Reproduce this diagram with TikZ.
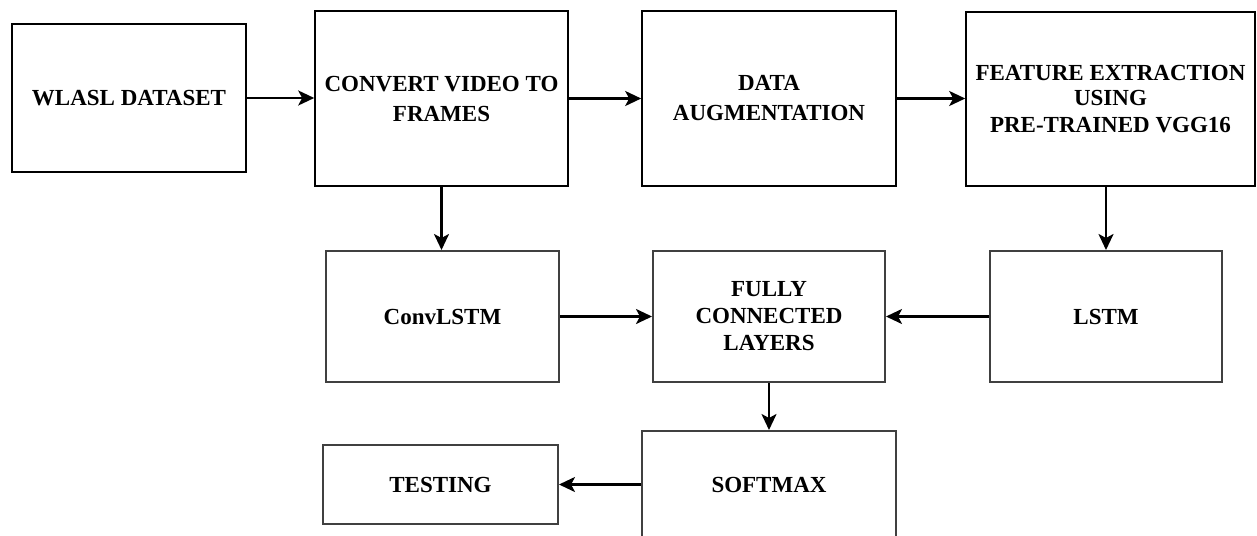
\documentclass[tikz,border=0pt]{standalone}
\usepackage{fontspec}
\setmainfont{Liberation Serif}
\usetikzlibrary{arrows.meta}
\tikzset{
  blk/.style={draw=black, line width=1.6pt, align=center, inner sep=0pt,
    font=\bfseries\fontsize{23}{27}\selectfont, fill=white},
  blk2/.style={blk, draw=black!75, line width=2pt},
  arr/.style={line width=2.4pt, -{Stealth[length=16pt,width=15pt,inset=4pt]}}
}
\begin{document}
\begin{tikzpicture}[x=1pt,y=-1pt]
\useasboundingbox (0,0) rectangle (1257,535);
\clip (0,0) rectangle (1257,535);
\fill[white] (0,0) rectangle (1257,535);
% top row
\node[blk, minimum width=234pt, minimum height=148pt] (wlasl) at (129,98) {WLASL DATASET};
\node[blk, minimum width=253pt, minimum height=175pt] (conv) at (441.5,98.5) {CONVERT VIDEO TO\\[3pt]FRAMES};
\node[blk, minimum width=254pt, minimum height=175pt] (aug) at (769,98.5) {DATA\\[3pt]AUGMENTATION};
\node[blk, minimum width=289pt, minimum height=174pt] (feat) at (1110.5,99) {FEATURE EXTRACTION\\[-2pt]USING\\PRE-TRAINED VGG16};
% middle row
\node[blk2, minimum width=233pt, minimum height=131pt] (convlstm) at (442.5,316.5) {ConvLSTM};
\node[blk2, minimum width=232pt, minimum height=131pt] (fc) at (769,316.5) {FULLY\\CONNECTED\\LAYERS};
\node[blk2, minimum width=232pt, minimum height=131pt] (lstm) at (1106,316.5) {LSTM};
% bottom row
\node[blk2, minimum width=254pt, minimum height=108pt] (softmax) at (769,485) {SOFTMAX};
\node[blk2, minimum width=235pt, minimum height=79pt] (testing) at (440.5,484.5) {TESTING};
% connectors
\draw[arr] (wlasl.east) -- (wlasl.east -| conv.west);
\draw[arr] (conv.east) -- (conv.east -| aug.west);
\draw[arr] (aug.east) -- (aug.east -| feat.west);
\draw[arr] (conv.south) -- (conv.south |- convlstm.north);
\draw[arr] (feat.south -| lstm.north) -- (lstm.north);
\draw[arr] (convlstm.east) -- (convlstm.east -| fc.west);
\draw[arr] (lstm.west) -- (lstm.west -| fc.east);
\draw[arr] (fc.south) -- (softmax.north);
\draw[arr] (softmax.west |- testing.east) -- (testing.east);
\end{tikzpicture}
\end{document}
